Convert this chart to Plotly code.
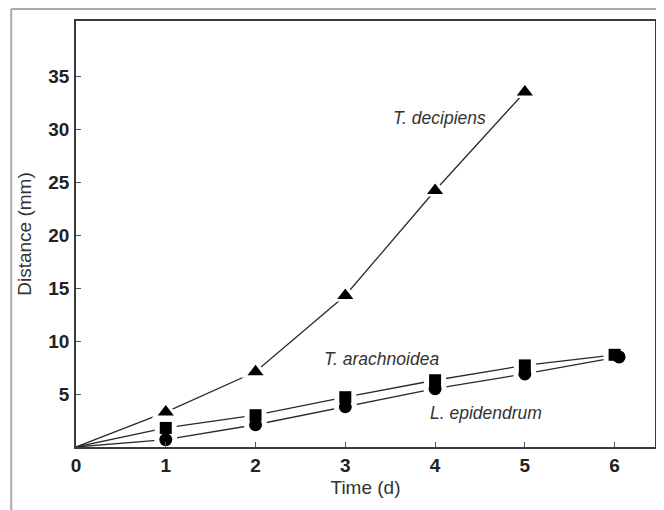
import plotly.graph_objects as go

time = [0, 1, 2, 3, 4, 5, 6]
time_dec = [0, 1, 2, 3, 4, 5]
dec = [0, 3.3, 7.1, 14.3, 24.2, 33.5]
ara = [0, 1.8, 3.0, 4.7, 6.3, 7.7, 8.7]
epi_time = [0, 1, 2, 3, 4, 5, 6.05]
epi = [0, 0.7, 2.1, 3.8, 5.5, 6.9, 8.5]

labels = ["T. decipiens", "T. arachnoidea", "L. epidendrum"]
xticks = [0, 1, 2, 3, 4, 5, 6]
yticks = [5, 10, 15, 20, 25, 30, 35]

series = [
    (time_dec, dec, "triangle-up", 14),
    (time, ara, "square", 12),
    (epi_time, epi, "circle", 13),
]

fig = go.Figure()
lc = "#2a2a2a"
for xs, ys, sym, sz in series:
    fig.add_trace(go.Scatter(x=xs, y=ys, mode="lines",
                             line=dict(color=lc, width=1.3), showlegend=False, hoverinfo="skip"))
# white halos to create gaps in lines near markers
for xs, ys, sym, sz in series:
    fig.add_trace(go.Scatter(x=xs[1:], y=ys[1:], mode="markers",
                             marker=dict(symbol=sym, size=sz + 10, color="white",
                                         line=dict(width=0)),
                             showlegend=False, hoverinfo="skip"))
for xs, ys, sym, sz in series:
    fig.add_trace(go.Scatter(x=xs[1:], y=ys[1:], mode="markers",
                             marker=dict(symbol=sym, size=sz, color="black",
                                         line=dict(width=0)),
                             showlegend=False))

afont = dict(family="Liberation Sans, Arial", size=17.5, color="#333")
fig.add_annotation(x=4.05, y=31, text="<i>" + labels[0] + "</i>", showarrow=False, font=afont)
fig.add_annotation(x=3.4, y=8.3, text="<i>" + labels[1] + "</i>", showarrow=False, font=afont)
fig.add_annotation(x=4.57, y=3.2, text="<i>" + labels[2] + "</i>", showarrow=False, font=afont)

# page has an 8px body margin; compensate
W, H = 656, 502
L, R, T, B = 68, 7, 13, 63
pw, ph = W - L - R, H - T - B
fx = (3 - L) / pw
fy = 1 + (T - 1) / ph
fig.add_shape(type="line", xref="paper", yref="paper", x0=fx, y0=fy, x1=1.05, y1=fy,
              line=dict(color="#aaaaaa", width=2))
fig.add_shape(type="line", xref="paper", yref="paper", x0=fx, y0=fy, x1=fx, y1=-0.2,
              line=dict(color="#aaaaaa", width=2))

axis_common = dict(showline=True, linecolor="#3a3a3a", linewidth=1.8, mirror=True,
                   ticks="inside", ticklen=5, tickwidth=1, tickcolor="#555",
                   showgrid=False, zeroline=False,
                   tickfont=dict(family="Liberation Sans, Arial", size=19, color="#222"))
tfont = dict(family="Liberation Sans, Arial", size=19, color="#333")
fig.update_xaxes(range=[0, 6.45], tickvals=xticks,
                 ticktext=[f"<b>{v}</b>" for v in xticks],
                 title=dict(text="Time (d)", font=tfont, standoff=6),
                 **axis_common)
fig.update_yaxes(range=[0, 40.2], tickvals=yticks,
                 ticktext=[f"<b>{v}</b>" for v in yticks],
                 ticklabelstandoff=1,
                 title=dict(text="Distance (mm)", font=tfont, standoff=12),
                 **axis_common)

fig.update_layout(width=W, height=H, margin=dict(l=L, r=R, t=T, b=B),
                  plot_bgcolor="white", paper_bgcolor="white",
                  font=dict(family="Liberation Sans, Arial"))
fig.write_html("out.html")
